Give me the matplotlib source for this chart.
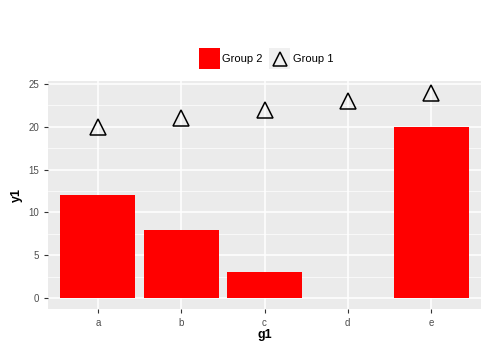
import matplotlib
matplotlib.use("Agg")
from matplotlib import pyplot as plt
from matplotlib.patches import Patch, Rectangle
from matplotlib.lines import Line2D
from matplotlib.ticker import MultipleLocator

g1 = ["a", "b", "c", "d", "e"]
group2 = [12, 8, 3, 0, 20]
group1 = [20, 21, 22, 23, 24]

plt.rcParams['font.family'] = ['Liberation Sans', 'DejaVu Sans']


class TriangleKey:
    # grey key box with a hollow triangle in the middle, like ggplot
    def legend_artist(self, legend, orig_handle, fontsize, handlebox):
        x0, y0 = handlebox.xdescent, handlebox.ydescent
        w, h = handlebox.width, handlebox.height
        bg = Rectangle((-x0, -y0), w, h, facecolor="#F0F0F0", edgecolor="none",
                       transform=handlebox.get_transform())
        mk = Line2D([-x0 + w / 2], [-y0 + h / 2], linestyle="none", marker="^", markersize=10,
                    markerfacecolor="none", markeredgecolor="black", markeredgewidth=1.1,
                    transform=handlebox.get_transform())
        handlebox.add_artist(bg)
        handlebox.add_artist(mk)
        return mk


fig = plt.figure(figsize=(5, 3.55), dpi=100)
ax = fig.add_axes([0.096, 0.13, 0.866, 0.642])
ax.set_facecolor("#EBEBEB")

x = list(range(1, len(g1) + 1))
ax.bar(x, group2, width=0.9, color="#FF0000", zorder=2)
ax.plot(x, group1, linestyle="none", marker="^", markersize=12,
        markerfacecolor="none", markeredgecolor="black", markeredgewidth=1.1, zorder=3)

ax.set_xlim(0.4, 5.6)
ax.set_ylim(-1.25, 25.35)
ax.set_xticks(x)
ax.set_xticklabels(g1)
ax.yaxis.set_major_locator(MultipleLocator(5))
ax.yaxis.set_minor_locator(MultipleLocator(2.5))
ax.grid(which="major", color="white", linewidth=1.1, zorder=0)
ax.grid(which="minor", axis="y", color="white", linewidth=0.5, zorder=0)
ax.set_axisbelow(True)
for s in ax.spines.values():
    s.set_visible(False)
ax.tick_params(which="major", colors="#333333", labelcolor="#4D4D4D", labelsize=7, length=3, width=0.8)
ax.tick_params(which="minor", length=0)

ax.set_xlabel("g1", fontsize=9, fontweight="bold", labelpad=1)
ax.set_ylabel("y1", fontsize=9, fontweight="bold", labelpad=4)

tri = Line2D([], [], linestyle="none", marker="^")
handles = [Patch(facecolor="#FF0000", edgecolor="none"), tri]
fig.legend(handles, ["Group 2", "Group 1"], loc="center", bbox_to_anchor=(0.532, 0.835),
           ncol=2, frameon=False, fontsize=8, handlelength=1.89, handleheight=2.6,
           handletextpad=0.27, columnspacing=0.54,
           handler_map={tri: TriangleKey()})

fig.savefig("out.png", dpi=100)
